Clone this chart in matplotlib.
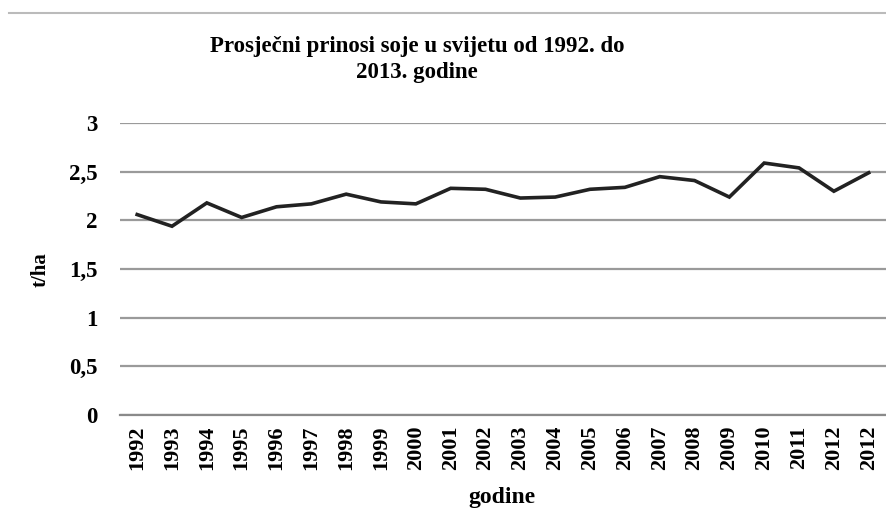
import matplotlib.pyplot as plt
from matplotlib.lines import Line2D

years = ["1992", "1993", "1994", "1995", "1996", "1997", "1998", "1999",
         "2000", "2001", "2002", "2003", "2004", "2005", "2006", "2007",
         "2008", "2009", "2010", "2011", "2012", "2012"]
yields = [2.06, 1.94, 2.18, 2.03, 2.14, 2.17, 2.27, 2.19, 2.17, 2.33, 2.32,
          2.23, 2.24, 2.32, 2.34, 2.45, 2.41, 2.24, 2.59, 2.54, 2.30, 2.49]
y_ticks = [0, 0.5, 1, 1.5, 2, 2.5, 3]
y_labels = ["0", "0,5", "1", "1,5", "2", "2,5", "3"]

plt.rcParams["font.family"] = ["Liberation Serif", "DejaVu Serif"]
plt.rcParams["font.weight"] = "bold"

fig = plt.figure(figsize=(8.87, 5.09), dpi=100)
ax = fig.add_axes([0.135, 0.185, 0.864, 0.573])

x = list(range(len(years)))
ax.plot(x, yields, color="#222222", linewidth=2.6, solid_joinstyle="miter")

ax.set_xlim(-0.5, len(years) - 0.5)
ax.set_ylim(0, 3)
ax.set_yticks(y_ticks)
ax.set_yticklabels(y_labels, fontsize=16.5, fontweight="bold")
ax.set_xticks(x)
ax.set_xticklabels(years, rotation=90, fontsize=16, fontweight="bold")
ax.tick_params(axis="both", length=0)
ax.tick_params(axis="y", pad=16)
ax.tick_params(axis="x", pad=8)
ax.grid(axis="y", color="#9a9a9a", linewidth=1.6)
ax.set_axisbelow(True)
for side in ["top", "right", "left"]:
    ax.spines[side].set_visible(False)
ax.spines["bottom"].set_color("#8a8a8a")
ax.spines["bottom"].set_linewidth(1.6)

fig.text(0.046, 0.47, "t/ha", rotation=90, ha="center", va="center",
         fontsize=15, fontweight="bold")
fig.text(0.566, 1 - 497 / 509, "godine", ha="center", va="center",
         fontsize=17, fontweight="bold")

fig.text(0.47, 0.93, "Prosječni prinosi soje u svijetu od 1992. do\n2013. godine",
         ha="center", va="top", fontsize=16.5, fontweight="bold", linespacing=1.35)

fig.add_artist(Line2D([0.01, 1.0], [0.975, 0.975], transform=fig.transFigure,
                      color="#bbbbbb", linewidth=1.5))

fig.savefig("out.png", dpi=100)
